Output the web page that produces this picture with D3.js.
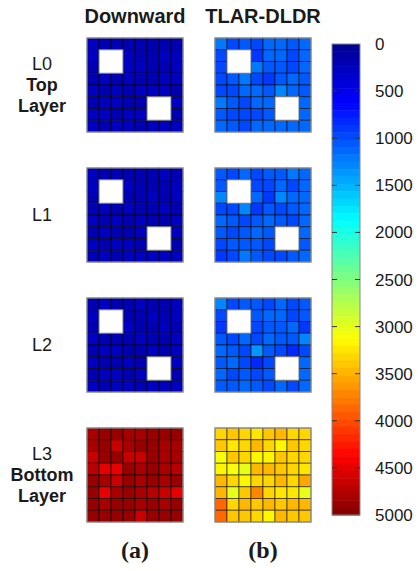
<!DOCTYPE html>
<html>
<head>
<meta charset="utf-8">
<script src="https://cdn.jsdelivr.net/npm/d3@7"></script>
<style>
  body { margin: 0; background: #fff; }
  text { font-family: "Liberation Sans", Arial, sans-serif; fill: #1a1a1a; }
</style>
</head>
<body>
<svg id="chart" width="418" height="571"></svg>
<script>
// data
const methods = ["Downward", "TLAR-DLDR"];
const layers = ["L0", "L1", "L2", "L3"];
const layerNotes = ["Top Layer", "", "", "Bottom Layer"];
const panelTags = ["(a)", "(b)"];
const cbTicks = [0, 500, 1000, 1500, 2000, 2500, 3000, 3500, 4000, 4500, 5000];
// holes (top-left row, col) of 2x2 blocks, layers L0..L2
const holes = [[1, 1], [5, 5]];

const downL0 = [
  [250, 210, 230, 220, 200, 230, 220, 210],
  [240, null, null, 250, 230, 220, 240, 250],
  [230, null, null, 240, 250, 220, 210, 240],
  [210, 240, 220, 240, 230, 220, 240, 250],
  [250, 230, 240, 220, 240, 250, 240, 230],
  [220, 240, 250, 230, 220, null, null, 240],
  [240, 250, 220, 240, 240, null, null, 230],
  [240, 230, 250, 240, 230, 250, 270, 240]
];
const downL1 = [
  [240, 220, 230, 210, 230, 220, 240, 230],
  [240, null, null, 240, 220, 230, 220, 240],
  [230, null, null, 220, 230, 240, 230, 240],
  [220, 240, 230, 240, 220, 230, 240, 230],
  [240, 230, 240, 230, 240, 230, 220, 240],
  [230, 240, 230, 220, 240, null, null, 240],
  [240, 230, 240, 240, 230, null, null, 230],
  [230, 240, 230, 240, 250, 240, 250, 240]
];
const downL2 = [
  [230, 240, 220, 230, 240, 230, 220, 240],
  [240, null, null, 230, 220, 240, 230, 240],
  [220, null, null, 240, 230, 220, 240, 230],
  [240, 230, 220, 230, 240, 230, 220, 240],
  [230, 240, 240, 220, 230, 240, 230, 240],
  [240, 230, 230, 240, 220, null, null, 240],
  [230, 240, 240, 230, 240, null, null, 230],
  [240, 230, 240, 250, 230, 240, 240, 240]
];
const downL3 = [
  [4830, 4920, 4880, 4780, 4830, 4880, 4920, 4880],
  [4780, 4880, 4680, 4830, 4920, 4880, 4780, 4830],
  [4630, 4920, 4880, 4680, 4630, 4880, 4830, 4780],
  [4730, 4530, 4480, 4880, 4830, 4880, 4830, 4730],
  [4920, 4830, 4680, 4880, 4830, 4920, 4830, 4880],
  [4880, 4480, 4780, 4880, 4830, 4730, 4630, 4480],
  [4920, 4830, 4880, 4880, 4830, 4880, 4830, 4880],
  [4920, 4880, 4920, 4880, 4680, 4920, 4880, 4920]
];
const tlarL0 = [
  [1230, 1000, 1050, 1000, 1150, 1100, 1050, 1150],
  [950, null, null, 900, 1100, 1150, 950, 1150],
  [950, null, null, 1200, 1050, 1050, 950, 1150],
  [950, 1050, 1200, 1000, 900, 1050, 1150, 1050],
  [950, 1000, 1100, 1150, 1050, 1300, 1100, 1050],
  [1200, 1050, 1000, 1100, 1100, null, null, 1100],
  [1050, 950, 1000, 1000, 1050, null, null, 1150],
  [1100, 1050, 1000, 1100, 1150, 1100, 1150, 1150]
];
const tlarL1 = [
  [1050, 950, 1100, 1000, 1050, 1050, 1200, 1150],
  [1050, null, null, 950, 1000, 1100, 1000, 1100],
  [1250, null, null, 1150, 880, 1300, 1100, 1100],
  [950, 1000, 1300, 880, 1050, 1000, 1050, 1100],
  [1100, 1050, 1000, 1050, 1100, 1050, 1000, 1100],
  [1050, 1000, 1050, 1150, 1050, null, null, 1100],
  [1000, 1050, 1050, 1050, 1000, null, null, 1050],
  [900, 1000, 1200, 1050, 950, 1000, 1050, 1100]
];
const tlarL2 = [
  [1250, 950, 1050, 1050, 1000, 1100, 1000, 1050],
  [1000, null, null, 1050, 1100, 1100, 1000, 1050],
  [900, null, null, 1000, 1050, 1050, 1100, 880],
  [1050, 1000, 1100, 1000, 1100, 1050, 1050, 1250],
  [1150, 1050, 950, 1400, 1050, 1000, 850, 1000],
  [1050, 1100, 1000, 850, 1000, null, null, 1100],
  [1100, 1000, 1050, 1000, 1050, null, null, 1100],
  [1050, 1050, 1100, 1050, 1000, 1150, 1000, 1150]
];
const tlarL3 = [
  [3300, 3400, 3350, 3250, 3400, 3450, 3300, 3350],
  [3400, 3250, 3300, 3450, 3350, 3200, 3400, 3300],
  [3080, 3400, 3350, 3180, 3180, 3400, 3350, 3300],
  [3180, 3080, 3020, 3450, 3450, 3400, 3350, 3250],
  [3450, 3350, 3180, 3350, 3350, 3450, 3350, 3550],
  [3500, 3020, 3400, 3700, 3350, 3250, 3250, 3020],
  [3850, 3350, 3500, 3400, 3450, 3400, 3500, 3450],
  [3850, 3400, 3400, 3350, 3180, 3500, 3400, 3400]
];
const grids = {
  "Downward": [downL0, downL1, downL2, downL3],
  "TLAR-DLDR": [tlarL0, tlarL1, tlarL2, tlarL3]
};

// jet colormap stops, quantized to 64 levels like matlab
const jetStops = ["#00008f", "#0000ff", "#00ffff", "#ffff00", "#ff0000", "#800000"];
const jetPos = [0, 0.125, 0.375, 0.625, 0.875, 1];
const jetLin = d3.scaleLinear().domain(jetPos).range(jetStops).interpolate(d3.interpolateRgb);
const nLevels = 64;
const levels = d3.range(nLevels).map(i => jetLin((i + 0.5) / nLevels));
const color = d3.scaleQuantize().domain([0, 5000]).range(levels);

const svg = d3.select("#chart");

const colX = d3.scaleBand().domain(methods).range([87, 311]).paddingInner(0.25);
const rowY = d3.scaleBand().domain(layers).range([38, 522]).paddingInner(0.277);
const cx = d3.scaleBand().domain(d3.range(8)).range([0, colX.bandwidth()]);
const cy = d3.scaleBand().domain(d3.range(8)).range([0, rowY.bandwidth()]);

// column titles
svg.selectAll(".title")
  .data(methods)
  .enter()
  .append("text")
    .attr("x", d => colX(d) + colX.bandwidth() / 2)
    .attr("y", 23)
    .attr("text-anchor", "middle")
    .attr("font-size", 20)
    .attr("font-weight", "bold")
    .text(d => d);

methods.forEach(m => {
  layers.forEach((l, li) => {
    const g = svg.append("g")
      .attr("transform", `translate(${colX(m)},${rowY(l)})`);
    const cells = [];
    grids[m][li].forEach((row, r) => row.forEach((v, c) => {
      if (v !== null) cells.push({ r: r, c: c, v: v });
    }));
    g.selectAll("rect.cell")
      .data(cells)
      .enter()
      .append("rect")
        .attr("class", "cell")
        .attr("x", d => cx(d.c))
        .attr("y", d => cy(d.r))
        .attr("width", cx.bandwidth())
        .attr("height", cy.bandwidth())
        .attr("fill", d => color(d.v))
        .attr("stroke", "rgba(0,0,0,0.55)")
        .attr("stroke-width", 1);
    if (li < 3) {
      g.selectAll("rect.hole")
        .data(holes)
        .enter()
        .append("rect")
          .attr("class", "hole")
          .attr("x", d => cx(d[1]))
          .attr("y", d => cy(d[0]))
          .attr("width", cx.bandwidth() * 2)
          .attr("height", cy.bandwidth() * 2)
          .attr("fill", "#fff")
          .attr("stroke", "#777")
          .attr("stroke-width", 1);
    }
    g.append("rect")
      .attr("width", colX.bandwidth())
      .attr("height", rowY.bandwidth())
      .attr("fill", "none")
      .attr("stroke", "#999")
      .attr("stroke-width", 1.2);
  });
});

// row labels
layers.forEach((l, li) => {
  const lines = [l].concat(layerNotes[li] ? layerNotes[li].split(" ") : []);
  const mid = rowY(l) + rowY.bandwidth() / 2;
  const lh = 21;
  const y0 = mid - (lines.length - 1) * lh / 2 + 6;
  svg.selectAll(".rl" + li)
    .data(lines)
    .enter()
    .append("text")
      .attr("x", 42)
      .attr("y", (d, i) => y0 + i * lh)
      .attr("text-anchor", "middle")
      .attr("font-size", 18)
      .attr("font-weight", (d, i) => i ? "bold" : "normal")
      .text(d => d);
});

// panel tags
svg.selectAll(".tag")
  .data(panelTags)
  .enter()
  .append("text")
    .attr("x", (d, i) => colX(methods[i]) + colX.bandwidth() / 2)
    .attr("y", 558)
    .attr("text-anchor", "middle")
    .attr("font-size", 24)
    .attr("font-weight", "bold")
    .style("font-family", "'Liberation Serif', 'Times New Roman', serif")
    .text(d => d);

// colorbar
const cbX = 332, cbW = 28;
const cbY = d3.scaleLinear().domain([0, 5000]).range([44, 515]);
svg.selectAll(".cb")
  .data(levels)
  .enter()
  .append("rect")
    .attr("x", cbX)
    .attr("y", (d, i) => cbY(i * 5000 / nLevels))
    .attr("width", cbW)
    .attr("height", cbY(5000 / nLevels) - cbY(0) + 0.5)
    .attr("fill", d => d);
svg.append("rect")
  .attr("x", cbX)
  .attr("y", cbY(0))
  .attr("width", cbW)
  .attr("height", cbY(5000) - cbY(0))
  .attr("fill", "none")
  .attr("stroke", "#888")
  .attr("stroke-width", 1);

const inner = cbTicks.slice(1, -1);
svg.selectAll(".tkl")
  .data(inner)
  .enter()
  .append("line")
    .attr("x1", cbX).attr("x2", cbX + 5)
    .attr("y1", d => cbY(d)).attr("y2", d => cbY(d))
    .attr("stroke", "#333");
svg.selectAll(".tkr")
  .data(inner)
  .enter()
  .append("line")
    .attr("x1", cbX + cbW - 5).attr("x2", cbX + cbW)
    .attr("y1", d => cbY(d)).attr("y2", d => cbY(d))
    .attr("stroke", "#333");
svg.selectAll(".cbl")
  .data(cbTicks)
  .enter()
  .append("text")
    .attr("x", 375)
    .attr("y", d => cbY(d) + 6)
    .attr("font-size", 17)
    .text(d => d);
</script>
</body>
</html>
